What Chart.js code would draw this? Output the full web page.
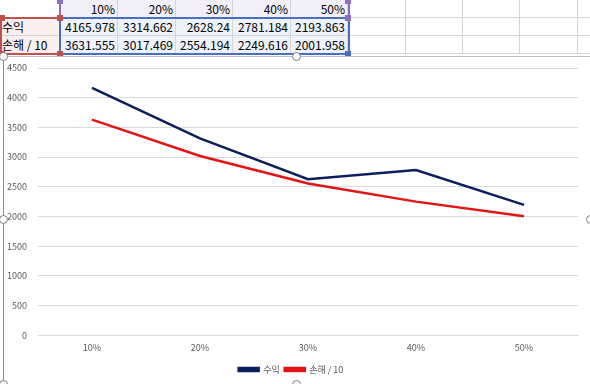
<!DOCTYPE html>
<html>
<head>
<meta charset="utf-8">
<script src="https://cdn.jsdelivr.net/npm/chart.js@4.4.0/dist/chart.umd.min.js"></script>
<style>
  html, body { margin: 0; padding: 0; background: #fff; }
  body { width: 590px; height: 384px; position: relative; overflow: hidden;
         font-family: "Noto Sans CJK KR", "Noto Sans", sans-serif; }
  .cell { position: absolute; box-sizing: border-box; font-size: 12px; line-height: 18px;
          padding: 0 2px; white-space: nowrap; color: #000;
          border-right: 1px solid #d4d4d4; border-bottom: 1px solid #d4d4d4; }
  .num { text-align: right; }
  .handle { position: absolute; width: 6px; height: 6px; box-sizing: border-box; }
  .knob { position: absolute; width: 9px; height: 9px; border-radius: 50%;
          background: #fff; border: 1px solid #7f7f7f; box-sizing: border-box; }
  #frame { position: absolute; left: 3px; top: 56px; width: 600px; height: 340px;
           border-left: 1px solid #8c8c8c; border-top: 1px solid #bfbfbf; background: #fff; }
  #chart { position: absolute; left: 4px; top: 57px; }
</style>
</head>
<body>
<div id="sheet"></div>
<div id="frame"></div>
<canvas id="chart" width="586" height="332"></canvas>
<div id="knobs"></div>
<script>
// Data
const categories = ["10%", "20%", "30%", "40%", "50%"];
const seriesNames = ["수익", "손해 / 10"];
const profit = [4165.978, 3314.662, 2628.24, 2781.184, 2193.863];
const lossDiv10 = [3631.555, 3017.469, 2554.194, 2249.616, 2001.958];
const yTicks = [0, 500, 1000, 1500, 2000, 2500, 3000, 3500, 4000, 4500];

// Spreadsheet cells behind the chart
const sheet = document.getElementById("sheet");
const colX = [0, 60, 118, 176, 233, 291, 348, 406, 463, 520, 578, 640];
const rowY = [0, 18, 36, 54];

function addCell(c, r, text, cls, bg) {
  const d = document.createElement("div");
  d.className = "cell " + (cls || "");
  d.style.left = colX[c] + "px";
  d.style.top = rowY[r] + "px";
  d.style.width = colX[c + 1] - colX[c] + "px";
  d.style.height = rowY[r + 1] - rowY[r] + "px";
  if (bg) d.style.background = bg;
  d.textContent = text || "";
  sheet.appendChild(d);
}

for (let r = 0; r < 3; r++) {
  for (let c = 0; c < 11; c++) {
    let text = "", cls = "", bg = "";
    if (r === 0 && c >= 1 && c <= 5) {
      text = categories[c - 1]; cls = "num"; bg = "#f3eff8";
    } else if (r > 0 && c === 0) {
      text = seriesNames[r - 1]; bg = "#fbeeee";
    } else if (r > 0 && c >= 1 && c <= 5) {
      text = String((r === 1 ? profit : lossDiv10)[c - 1]); cls = "num"; bg = "#eef2fb";
    }
    addCell(c, r, text, cls, bg);
  }
}

// range highlight boxes (Excel formula reference colours)
function box(x0, y0, x1, y1, color) {
  const d = document.createElement("div");
  d.style.cssText = `position:absolute;left:${x0}px;top:${y0}px;width:${x1 - x0}px;height:${y1 - y0}px;` +
    `border:2px solid ${color};box-sizing:border-box;`;
  sheet.appendChild(d);
}
box(59, -2, 350, 19, "#8e6cbf");
box(0, 17, 61, 55, "#c0504d");
box(59, 17, 350, 55, "#4a6fc0");

function handle(x, y, color) {
  const d = document.createElement("div");
  d.className = "handle";
  d.style.left = (x - 3) + "px";
  d.style.top = (y - 3) + "px";
  d.style.background = color;
  sheet.appendChild(d);
}
handle(60, 1, "#8e6cbf"); handle(348, 1, "#8e6cbf"); handle(348, 18, "#8e6cbf");
handle(2, 18, "#c0504d"); handle(60, 18, "#c0504d"); handle(2, 54, "#c0504d"); handle(60, 54, "#c0504d");
handle(348, 54, "#4a6fc0");

// chart selection knobs
const knobs = document.getElementById("knobs");
[[3, 56], [296, 56], [3, 219], [590, 219], [3, 384], [296, 384]].forEach(([x, y]) => {
  const k = document.createElement("div");
  k.className = "knob";
  k.style.left = (x - 4.5) + "px";
  k.style.top = (y - 4.5) + "px";
  knobs.appendChild(k);
});

// Chart
const ctx = document.getElementById("chart");
const chartFont = { family: "'Noto Sans CJK KR', 'Noto Sans', sans-serif", size: 9 };

new Chart(ctx, {
  type: "line",
  data: {
    labels: categories,
    datasets: [
      {
        label: seriesNames[0],
        data: profit,
        borderColor: "#0b1f5c",
        backgroundColor: "#0b1f5c",
        borderWidth: 2.5,
        pointRadius: 0,
        tension: 0,
      },
      {
        label: seriesNames[1],
        data: lossDiv10,
        borderColor: "#e41414",
        backgroundColor: "#e41414",
        borderWidth: 2.5,
        pointRadius: 0,
        tension: 0,
      },
    ],
  },
  options: {
    responsive: false,
    animation: false,
    devicePixelRatio: 1,
    layout: { padding: { top: 11, right: 12, left: 0, bottom: 5 } },
    plugins: {
      tooltip: { enabled: false },
      legend: {
        position: "bottom",
        labels: {
          boxWidth: 20,
          boxHeight: 3,
          padding: 5,
          color: "#595959",
          font: chartFont,
        },
      },
    },
    scales: {
      x: {
        offset: true,
        grid: { display: false, drawTicks: false },
        border: { color: "#d9d9d9" },
        ticks: { color: "#595959", font: chartFont, padding: 7 },
      },
      y: {
        min: 0,
        max: 4500,
        afterFit: (s) => { s.width = 34; },
        afterBuildTicks: (s) => { s.ticks = yTicks.map((v) => ({ value: v })); },
        grid: { color: "#d9d9d9", drawTicks: true, tickLength: 11, tickColor: "rgba(0,0,0,0)" },
        border: { display: false },
        ticks: { color: "#595959", font: chartFont, padding: 0, callback: (v) => String(v) },
      },
    },
  },
});
</script>
</body>
</html>
